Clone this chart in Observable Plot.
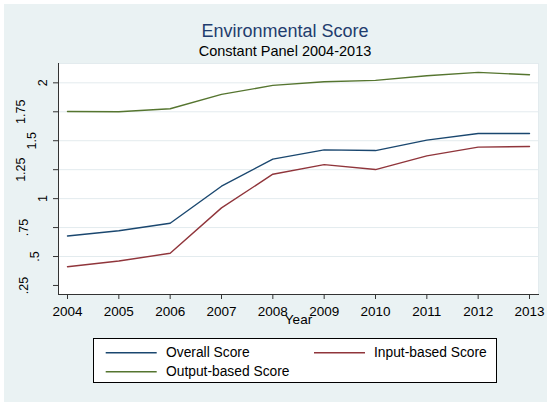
<!DOCTYPE html>
<html>
<head>
<meta charset="utf-8">
<script src="https://cdn.jsdelivr.net/npm/d3@7"></script>
<script src="https://cdn.jsdelivr.net/npm/@observablehq/plot@0.6"></script>
<style>
  html, body { margin: 0; padding: 0; background: #ffffff; }
  #wrap { position: relative; width: 547px; height: 402px; overflow: hidden; font-family: "Liberation Sans", Arial, sans-serif; }
  #bg { position: absolute; left: 4px; top: 4px; right: 0; bottom: 0; background: #eaf2f3; }
  #chart { position: absolute; left: 0; top: 0; }
  .title { position: absolute; left: 0; width: 570px; text-align: center; white-space: nowrap; }
  #legend { position: absolute; left: 93px; top: 338px; width: 404px; height: 45px; }
</style>
</head>
<body>
<div id="wrap">
  <div id="bg"></div>
  <div id="chart"></div>
  <div class="title" id="t1" style="top:22.3px;font-size:18px;line-height:18px;color:#1f3d6e;"></div>
  <div class="title" id="t2" style="top:43.7px;font-size:14.5px;line-height:14.5px;color:#000;"></div>
  <div id="legend"></div>
</div>
<script>
const titleText = "Environmental Score";
const subtitleText = "Constant Panel 2004-2013";
const xLabel = "Year";
const years = [2004, 2005, 2006, 2007, 2008, 2009, 2010, 2011, 2012, 2013];
const overallScore = [0.677, 0.723, 0.787, 1.107, 1.341, 1.421, 1.415, 1.505, 1.562, 1.562];
const inputScore   = [0.412, 0.461, 0.528, 0.920, 1.211, 1.294, 1.251, 1.369, 1.445, 1.450];
const outputScore  = [1.753, 1.750, 1.776, 1.900, 1.978, 2.009, 2.021, 2.061, 2.090, 2.070];
const seriesNames = ["Overall Score", "Input-based Score", "Output-based Score"];
const seriesColors = ["#1a476f", "#90353b", "#55752f"];
const yTicks = [0.25, 0.5, 0.75, 1, 1.25, 1.5, 1.75, 2];
const gridTicks = [0.5, 0.75, 1, 1.25, 1.5, 1.75, 2];

document.getElementById("t1").textContent = titleText;
document.getElementById("t2").textContent = subtitleText;

const seriesValues = [overallScore, inputScore, outputScore];
const rows = [];
seriesNames.forEach((name, i) => {
  years.forEach((yr, j) => rows.push({series: name, year: yr, value: seriesValues[i][j]}));
});

const fmt = d => String(d).replace(/^0\./, ".");
const decimals = s => s.includes(".") ? s.split(".")[1].length : 0;

const yLabelMarks = yTicks.map(v => {
  const s = fmt(v);
  const gap = 13 + 11 * decimals(s) + (s.startsWith(".") ? 0 : 2.5);
  return Plot.text([v], {
    y: d => d, frameAnchor: "left", text: d => fmt(d), rotate: -90,
    dx: -gap, textAnchor: "middle", lineAnchor: "middle", fontSize: 12.5, fill: "#000"
  });
});

const chart = Plot.plot({
  width: 547,
  height: 402,
  marginLeft: 58,
  marginRight: 9,
  marginTop: 63,
  marginBottom: 108,
  style: { background: "transparent", fontFamily: "'Liberation Sans', Arial, sans-serif", color: "#000" },
  x: { domain: [2004, 2013], insetLeft: 9, insetRight: 9, label: null },
  y: { domain: [0.172, 2.167], label: null },
  color: { domain: seriesNames, range: seriesColors },
  marks: [
    Plot.frame({ fill: "#ffffff", stroke: "#e3ebee" }),
    Plot.gridY(gridTicks, { stroke: "#e3ebee", strokeOpacity: 1, strokeWidth: 1 }),
    Plot.lineY(rows, { x: "year", y: "value", z: "series", stroke: "series", strokeWidth: 1.4 }),
    Plot.frame({ anchor: "left", stroke: "#333" }),
    Plot.frame({ anchor: "bottom", stroke: "#333" }),
    Plot.axisY({ ticks: yTicks, tickSize: 5, tickFormat: () => "", stroke: "#333", strokeOpacity: 1, label: null }),
    ...yLabelMarks,
    Plot.axisX({ ticks: years, tickSize: 5, tickPadding: 7, tickFormat: d => String(d), fontSize: 13.5, stroke: "#333", strokeOpacity: 1, label: null }),
    Plot.text([xLabel], { frameAnchor: "bottom", text: d => d, dy: 25.5, lineAnchor: "middle", fontSize: 13.5, fill: "#000" })
  ]
});
document.getElementById("chart").appendChild(chart);

// legend (SVG)
const lw = 404, lh = 45;
const lsvg = d3.select("#legend").append("svg")
  .attr("width", lw).attr("height", lh)
  .style("display", "block")
  .style("font-family", "'Liberation Sans', Arial, sans-serif");
lsvg.append("rect").attr("x", 0.5).attr("y", 0.5).attr("width", lw - 1).attr("height", lh - 1)
  .attr("fill", "#fff").attr("stroke", "#000").attr("stroke-width", 1);
const pos = [
  { sx: 12.7, tx: 73, ly: 14.7, ty: 19 },
  { sx: 221, tx: 281, ly: 14.7, ty: 19 },
  { sx: 12.7, tx: 73, ly: 33.7, ty: 37.5 }
];
seriesNames.forEach((name, i) => {
  const p = pos[i];
  lsvg.append("line")
    .attr("x1", p.sx).attr("x2", p.sx + 51)
    .attr("y1", p.ly).attr("y2", p.ly)
    .attr("stroke", seriesColors[i]).attr("stroke-width", 1.4);
  lsvg.append("text")
    .attr("x", p.tx).attr("y", p.ty)
    .attr("font-size", 13.8).attr("fill", "#000")
    .text(name);
});
</script>
</body>
</html>
